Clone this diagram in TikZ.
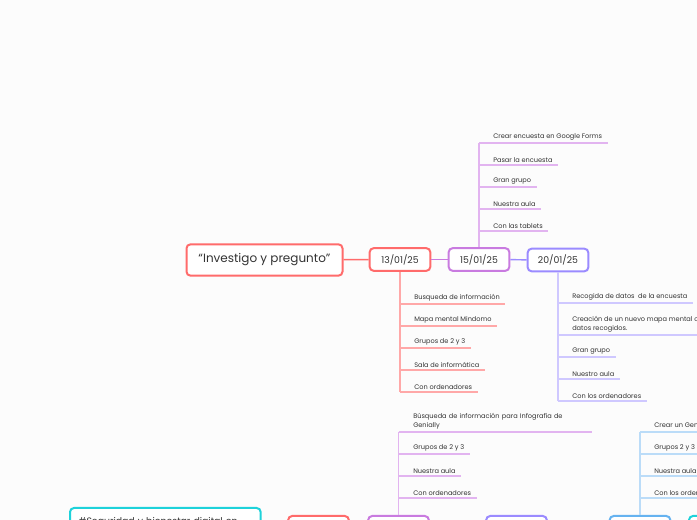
\documentclass[tikz,border=0pt]{standalone}
\usepackage{fontspec}
\setmainfont{Poppins}
\usepackage{xcolor}
\usepackage{tikz}
\usetikzlibrary{calc, positioning}

\definecolor{fondo}{HTML}{FCFCFC}
\definecolor{tinta}{HTML}{333333}
\definecolor{rojo}{HTML}{FF6B6B}
\definecolor{rojoclaro}{HTML}{FFA8A8}
\definecolor{lila}{HTML}{C97BE0}
\definecolor{lilaclaro}{HTML}{E2B4F0}
\definecolor{violeta}{HTML}{9B8BFF}
\definecolor{violetaclaro}{HTML}{CFC8FF}
\definecolor{azul}{HTML}{66B3F0}
\definecolor{azulclaro}{HTML}{BBDCF8}
\definecolor{cian}{HTML}{1ED2DA}

\tikzset{
  fecha/.style={draw, rounded corners=3pt, line width=1.5pt, fill=white,
    minimum width=45.5pt, minimum height=17pt, inner sep=0pt,
    font=\fontsize{7}{8}\selectfont, text=tinta},
  item/.style={anchor=south west, inner xsep=0pt, inner ysep=2pt,
    font=\fontsize{4.95}{6.9}\selectfont, text=tinta, align=left},
  rama/.style={line width=0.8pt},
}

\begin{document}
\begin{tikzpicture}[x=0.75pt, y=-0.75pt]
    % fondo y marco de la figura
    \fill[fondo] (0,0) rectangle (697,520);
    \useasboundingbox (0,0) rectangle (697,520);

    % 1. Tema central y fechas
    \node[fecha, draw=rojo, minimum width=117pt, minimum height=23.5pt,
      font=\fontsize{9}{10}\selectfont] (tema) at (264.5,260) {“Investigo y pregunto”};
    \node[fecha, draw=rojo] (d13) at (400,259.5) {13/01/25};
    \node[fecha, draw=lila] (d15) at (479,259.5) {15/01/25};
    \node[fecha, draw=violeta] (d20) at (558,260) {20/01/25};

    \draw[line width=1.1pt, rojo] (tema) -- (d13);
    \draw[line width=1.1pt, lila] (d13) -- (d15);
    \draw[line width=1.1pt, violeta] (d15) -- (d20);

    % 2. Rama 15/01/25 (hacia arriba)
    \node[item] (c1) at (493,143) {Crear encuesta en Google Forms};
    \node[item] (c2) at (493,165) {Pasar la encuesta};
    \node[item] (c3) at (493,187) {Gran grupo};
    \node[item] (c4) at (493,209) {Nuestra aula};
    \node[item] (c5) at (493,231) {Con las tablets};
    \draw[rama, lilaclaro] (d15.north) -- (d15.north |- c1.south);
    \foreach \n in {c1,c2,c3,c4,c5}
      \draw[rama, lilaclaro] (d15.north |- \n.south) -- ([xshift=4pt]\n.south east);

    % 3. Rama 13/01/25 (hacia abajo)
    \node[item] (a1) at (414,304) {Busqueda de información};
    \node[item] (a2) at (414,326) {Mapa mental Mindomo};
    \node[item] (a3) at (414,348) {Grupos de 2 y 3};
    \node[item] (a4) at (414,370) {Sala de informática};
    \node[item] (a5) at (414,392) {Con ordenadores};
    \draw[rama, rojoclaro] (d13.south) -- (d13.south |- a5.south);
    \foreach \n in {a1,a2,a3,a4,a5}
      \draw[rama, rojoclaro] (d13.south |- \n.south) -- ([xshift=4pt]\n.south east);

    % 4. Rama 20/01/25 (hacia abajo)
    \node[item] (b1) at (572,303) {Recogida de datos\ \ de la encuesta};
    \node[item] (b2) at (572,335) {Creación de un nuevo mapa mental con los\\datos recogidos.};
    \node[item] (b3) at (572,357) {Gran grupo};
    \node[item] (b4) at (572,379) {Nuestro aula};
    \node[item] (b5) at (572,401) {Con los ordenadores};
    \draw[rama, violetaclaro] (d20.south) -- (d20.south |- b5.south);
    \foreach \n in {b1,b2,b3,b4,b5}
      \draw[rama, violetaclaro] (d20.south |- \n.south) -- ([xshift=4pt]\n.south east);

    % 5. Fila inferior (cortada por el borde)
    \node[draw=cian, line width=1.5pt, rounded corners=3pt, fill=white, anchor=north west,
      text width=130pt, inner xsep=6.5pt, inner ysep=7pt, align=left,
      font=\fontsize{7}{9}\selectfont, text=tinta] (seguridad) at (69,507)
      {\#Seguridad y bienestar digital en};
    \node[fecha, draw=rojo, anchor=north] (e1) at (318.5,515) {};
    \node[fecha, draw=lila, anchor=north] (e2) at (398.5,515) {};
    \node[fecha, draw=violeta, anchor=north] (e3) at (516.5,515) {};
    \node[fecha, draw=azul, anchor=north] (e4) at (640,515) {};
    \node[fecha, draw=cian, anchor=north west] (e5) at (688,515) {};

    % Rama lila inferior
    \node[item, text width=130pt] (p1) at (413,432) {Búsqueda de información para Infografía de\\Genially};
    \node[item] (p2) at (413,454) {Grupos de 2 y 3};
    \node[item] (p3) at (413,476) {Nuestra aula};
    \node[item] (p4) at (413,498) {Con ordenadores};
    \draw[rama, lilaclaro] (e2.north) -- (e2.north |- p1.south);
    \foreach \n in {p1,p2,p3,p4}
      \draw[rama, lilaclaro] (e2.north |- \n.south) -- ([xshift=4pt]\n.south east);

    % Rama azul inferior
    \node[item] (q1) at (654,432) {Crear un Genially};
    \node[item] (q2) at (654,454) {Grupos 2 y 3};
    \node[item] (q3) at (654,476) {Nuestra aula};
    \node[item] (q4) at (654,498) {Con los ordenadores};
    \draw[rama, azulclaro] (e4.north) -- (e4.north |- q1.south);
    \foreach \n in {q1,q2,q3,q4}
      \draw[rama, azulclaro] (e4.north |- \n.south) -- ([xshift=4pt]\n.south east);

\end{tikzpicture}
\end{document}
